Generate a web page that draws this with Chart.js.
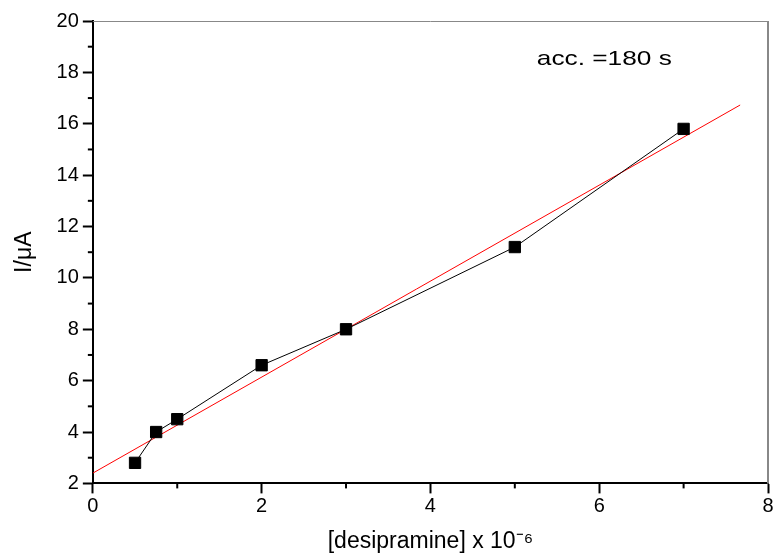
<!DOCTYPE html>
<html>
<head>
<meta charset="utf-8">
<script src="https://cdn.jsdelivr.net/npm/chart.js@4"></script>
<style>
  html, body { margin: 0; padding: 0; background: #fff; }
  #wrap { width: 778px; height: 557px; }
</style>
</head>
<body>
<div id="wrap"><canvas id="myChart"></canvas></div>
<script>
// measured points
const concX = [0.5, 0.75, 1, 2, 3, 5, 7];
const currentY = [2.8, 4.0, 4.5, 6.6, 8.0, 11.2, 15.8];
// linear fit line, end points
const fitX = [0, 7.67];
const fitY = [2.4, 16.73];
const xTicks = [0, 2, 4, 6, 8];
const yTicks = [2, 4, 6, 8, 10, 12, 14, 16, 18, 20];
const note = "acc. =180 s";

const fontName = "'Liberation Sans', Arial, sans-serif";

const pts = concX.map((x, i) => ({ x: x, y: currentY[i] }));
const fit = fitX.map((x, i) => ({ x: x, y: fitY[i] }));

// frame, minor ticks, annotation
const extras = {
  id: 'extras',
  beforeDatasetsDraw(chart) {
    const a = chart.chartArea;
    const ctx = chart.ctx;
    ctx.save();
    ctx.strokeStyle = '#888';
    ctx.lineWidth = 1;
    ctx.beginPath();
    ctx.moveTo(a.left, a.top + 0.5);
    ctx.lineTo(a.right, a.top + 0.5);
    ctx.stroke();
    ctx.lineWidth = 2;
    ctx.beginPath();
    ctx.moveTo(a.right, a.top);
    ctx.lineTo(a.right, a.bottom);
    ctx.stroke();
    ctx.restore();
  },
  afterDraw(chart) {
    const ctx = chart.ctx;
    const xs = chart.scales.x, ys = chart.scales.y;
    const a = chart.chartArea;
    ctx.save();
    ctx.strokeStyle = '#000';
    ctx.lineWidth = 2;
    for (let v = 1; v < 8; v += 2) {
      const px = xs.getPixelForValue(v);
      ctx.beginPath();
      ctx.moveTo(px, a.bottom);
      ctx.lineTo(px, a.bottom + 5);
      ctx.stroke();
    }
    for (let v = 3; v < 20; v += 2) {
      const py = ys.getPixelForValue(v);
      ctx.beginPath();
      ctx.moveTo(a.left, py);
      ctx.lineTo(a.left - 5, py);
      ctx.stroke();
    }
    // note, a bit wide like the original
    ctx.fillStyle = '#000';
    ctx.font = '21px ' + fontName;
    ctx.textAlign = 'center';
    ctx.textBaseline = 'middle';
    ctx.translate(xs.getPixelForValue(6.06), ys.getPixelForValue(18.5));
    ctx.scale(1.25, 1);
    ctx.fillText(note, 0, 0);
    ctx.restore();
  }
};

new Chart("myChart", {
  type: "scatter",
  data: {
    datasets: [{
      label: "data",
      data: pts,
      showLine: true,
      borderColor: "#000",
      borderWidth: 1,
      backgroundColor: "#000",
      pointStyle: "rect",
      pointRadius: 8,
      pointHoverRadius: 8
    }, {
      label: "fit",
      data: fit,
      showLine: true,
      borderColor: "#ff0000",
      borderWidth: 1,
      pointRadius: 0
    }]
  },
  options: {
    responsive: true,
    maintainAspectRatio: false,
    animation: false,
    layout: { padding: { top: 21, right: 10, left: 7, bottom: 0 } },
    plugins: {
      legend: { display: false },
      tooltip: { enabled: false }
    },
    scales: {
      x: {
        type: "linear",
        min: 0,
        max: 8,
        afterBuildTicks: (s) => { s.ticks = xTicks.map(v => ({ value: v })); },
        grid: { drawOnChartArea: false, tickLength: 10, tickColor: "#000", tickWidth: 2 },
        border: { color: "#000", width: 2 },
        ticks: { color: "#000", font: { size: 20, family: fontName }, padding: 1 },
        title: {
          display: true,
          text: "[desipramine] x 10\u207B\u2076",
          color: "#000",
          font: { size: 23, family: fontName },
          padding: { top: 8, bottom: 2 }
        }
      },
      y: {
        type: "linear",
        min: 2,
        max: 20,
        afterBuildTicks: (s) => { s.ticks = yTicks.map(v => ({ value: v })); },
        grid: { drawOnChartArea: false, tickLength: 10, tickColor: "#000", tickWidth: 2 },
        border: { color: "#000", width: 2 },
        ticks: { color: "#000", font: { size: 20, family: fontName }, padding: 4 },
        title: {
          display: true,
          text: "I/\u03BCA",
          color: "#000",
          font: { size: 23, family: fontName },
          padding: { bottom: 14 }
        }
      }
    }
  },
  plugins: [extras]
});
</script>
</body>
</html>
